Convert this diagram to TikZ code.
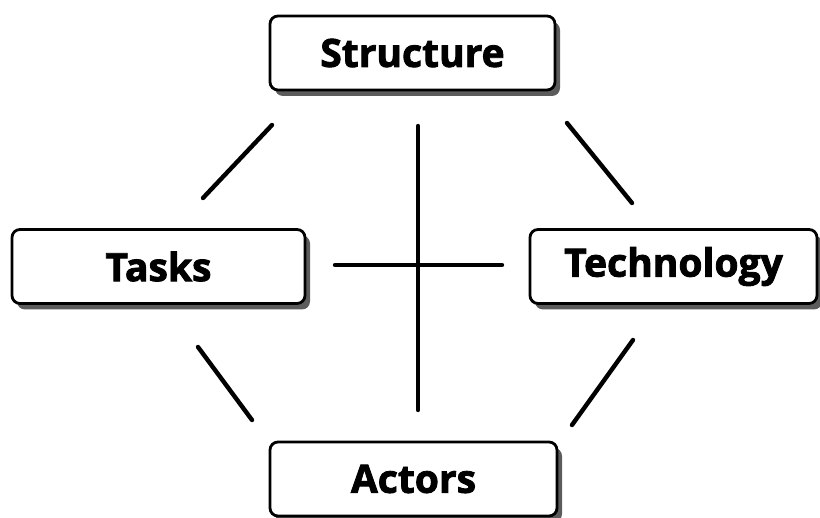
\documentclass[tikz,border=0pt]{standalone}
\usepackage{fontspec}
\setmainfont{Open Sans}
\newfontfamily\boxfont{Open Sans}[BoldFeatures={FakeBold=2.2}]
\usetikzlibrary{shadows}
\begin{document}
\begin{tikzpicture}[x=1pt,y=-1pt,
  box/.style={draw=black, line width=2.8pt, rounded corners=8pt, fill=white,
    minimum height=74pt, inner sep=0pt,
    font=\boxfont\fontsize{39}{44}\selectfont\bfseries,
    drop shadow={shadow xshift=5pt, shadow yshift=-6pt, fill=black!75, opacity=0.85}},
  link/.style={line width=4.4pt, line cap=round, black}]
\useasboundingbox (0,0) rectangle (820,518);
\node[box, minimum width=285pt] (S) at (412.5,53) {Structure};
\node[box, minimum width=293pt] (T) at (158.5,266.5) {Tasks\hspace{10pt}};
\node[box, minimum width=287pt] (H) at (673.5,266.5) {Technology};
\node[box, minimum width=287pt] (A) at (413.5,479) {Actors};
\coordinate (st1) at (272,125);
\coordinate (st2) at (203,198);
\coordinate (sh1) at (567,123);
\coordinate (sh2) at (632,203);
\coordinate (ta1) at (198,347);
\coordinate (ta2) at (252,420);
\coordinate (ha1) at (633,340);
\coordinate (ha2) at (572,425);
\coordinate (v1) at (418,126);
\coordinate (v2) at (418,410);
\coordinate (h1) at (335,265);
\coordinate (h2) at (502,265);
\draw[link] (st1) -- (st2);
\draw[link] (sh1) -- (sh2);
\draw[link] (ta1) -- (ta2);
\draw[link] (ha1) -- (ha2);
\draw[link] (v1) -- (v2);
\draw[link] (h1) -- (h2);
\end{tikzpicture}
\end{document}
